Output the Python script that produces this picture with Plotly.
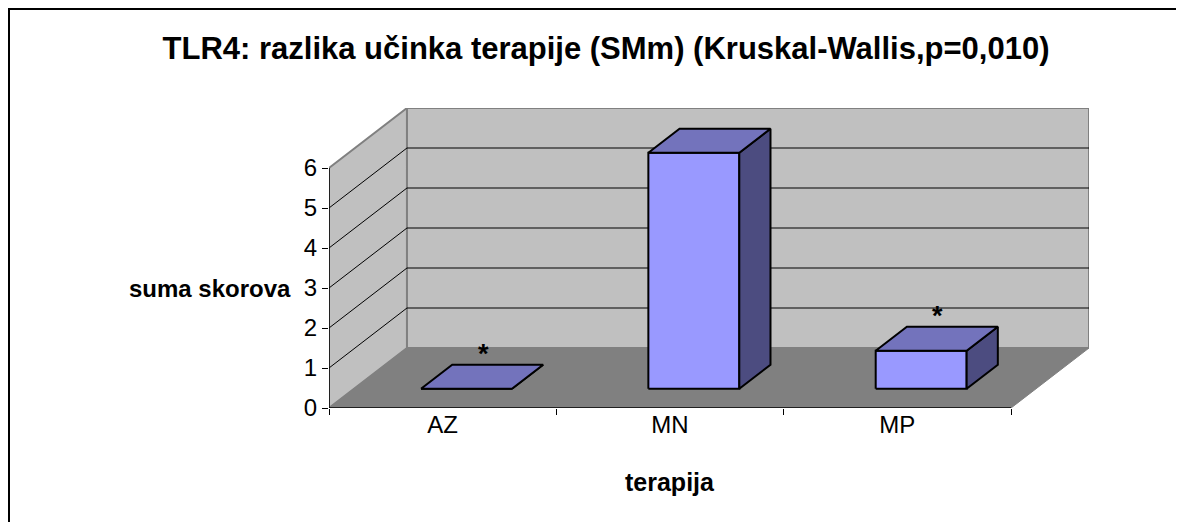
import plotly.graph_objects as go

# data
categories = ["AZ", "MN", "MP"]
values = [0.0, 5.9, 0.95]
significant = [True, False, True]
y_ticks = [0, 1, 2, 3, 4, 5, 6]

title = "TLR4: razlika učinka terapije (SMm) (Kruskal-Wallis,p=0,010)"
x_title = "terapija"
y_title = "suma skorova"

# 3d look (oblique projection in axis units)
DX, DY = 0.343, 1.5        # depth offset of the back wall
D0, D1 = 0.32, 0.72        # bar depth (fraction of floor depth)
W0, W1 = 0.295, 0.695      # bar span inside its category
YMAX = 6
n = len(categories)

FONT = "Liberation Sans, Arial, sans-serif"
front_c, top_c, side_c = "#9999FF", "#7373BC", "#4C4C80"

# the page body has an 8px margin, so the figure starts at (8, 8)
W, H = 1176, 514


def p(x, y, d):
    return x + d * DX, y + d * DY


def poly(pts, fill, line="black", width=2):
    xs = [q[0] for q in pts] + [pts[0][0]]
    ys = [q[1] for q in pts] + [pts[0][1]]
    return go.Scatter(x=xs, y=ys, mode="lines", fill="toself", fillcolor=fill,
                      line=dict(color=line, width=width), hoverinfo="skip", showlegend=False)


def seg(pts, color="black", width=1):
    return go.Scatter(x=[q[0] for q in pts], y=[q[1] for q in pts], mode="lines",
                      line=dict(color=color, width=width), hoverinfo="skip", showlegend=False)


fig = go.Figure()

# walls and floor
fig.add_trace(poly([p(0, 0, 0), p(0, YMAX, 0), p(0, YMAX, 1), p(0, 0, 1)], "#C0C0C0", "#808080", 2))
fig.add_trace(poly([p(0, 0, 1), p(0, YMAX, 1), p(n, YMAX, 1), p(n, 0, 1)], "#C0C0C0", "#808080", 2))
fig.add_trace(poly([p(0, 0, 0), p(n, 0, 0), p(n, 0, 1), p(0, 0, 1)], "#808080", "#808080", 1))

# gridlines
for v in y_ticks[1:-1]:
    fig.add_trace(seg([p(0, v, 0), p(0, v, 1), p(n, v, 1)]))

# front axes
fig.add_trace(seg([p(0, 0, 0), p(0, YMAX, 0)], "black", 1.5))
fig.add_trace(seg([p(0, 0, 0), p(n, 0, 0)], "black", 1.5))

# bars
for i, v in enumerate(values):
    x0, x1 = i + W0, i + W1
    fig.add_trace(poly([p(x0, 0, D0), p(x1, 0, D0), p(x1, v, D0), p(x0, v, D0)], front_c))
    fig.add_trace(poly([p(x1, 0, D0), p(x1, 0, D1), p(x1, v, D1), p(x1, v, D0)], side_c))
    fig.add_trace(poly([p(x0, v, D0), p(x1, v, D0), p(x1, v, D1), p(x0, v, D1)], top_c))
    if significant[i]:
        sx, _ = p(i + 0.5, v, (D0 + D1) / 2)
        _, sy = p(i + 0.5, v, D1)
        fig.add_annotation(x=sx, y=sy + 0.45, text="<b>*</b>", showarrow=False, yanchor="middle",
                           yshift=-7, font=dict(family=FONT, size=27, color="black"))

fig.add_annotation(x=n / 2, y=0, text="<b>" + x_title + "</b>", showarrow=False,
                   yanchor="middle", yshift=-74, font=dict(family=FONT, size=25, color="black"))
fig.add_annotation(x=0, y=3, text="<b>" + y_title + "</b>", showarrow=False,
                   xanchor="right", xshift=-36, font=dict(family=FONT, size=24, color="black"))

fig.update_layout(
    width=W, height=H,
    margin=dict(l=321, r=W - 1081, t=100, b=H - 400),
    paper_bgcolor="white", plot_bgcolor="white",
    title=dict(text="<b>" + title + "</b>", x=598 / W, xanchor="center", xref="container",
               y=1 - 40 / H, yanchor="middle", yref="container",
               font=dict(family=FONT, size=31, color="black")),
    xaxis=dict(range=[0, n + DX], showgrid=False, zeroline=False, showline=False,
               tickvals=[i + 0.5 for i in range(n)], ticktext=categories, ticks="",
               tickfont=dict(family=FONT, size=24, color="black"),
               minor=dict(tickvals=list(range(n + 1)), ticks="outside", ticklen=6,
                          tickcolor="black", tickwidth=1, showgrid=False)),
    yaxis=dict(range=[0, YMAX + DY], showgrid=False, zeroline=False, showline=False,
               tickvals=y_ticks, ticks="outside", ticklen=6, tickcolor="black",
               tickfont=dict(family=FONT, size=24, color="black")),
    # chart-area border: only its top and left edges fall inside the picture
    shapes=[dict(type="line", xref="paper", yref="paper",
                 x0=-320 / 760, x1=-320 / 760, y0=1.4, y1=-0.5,
                 line=dict(color="black", width=2)),
            dict(type="line", xref="paper", yref="paper",
                 x0=-0.5, x1=1.2, y0=(400 - 1) / 300, y1=(400 - 1) / 300,
                 line=dict(color="black", width=2))],
)

fig.write_html("out.html")
